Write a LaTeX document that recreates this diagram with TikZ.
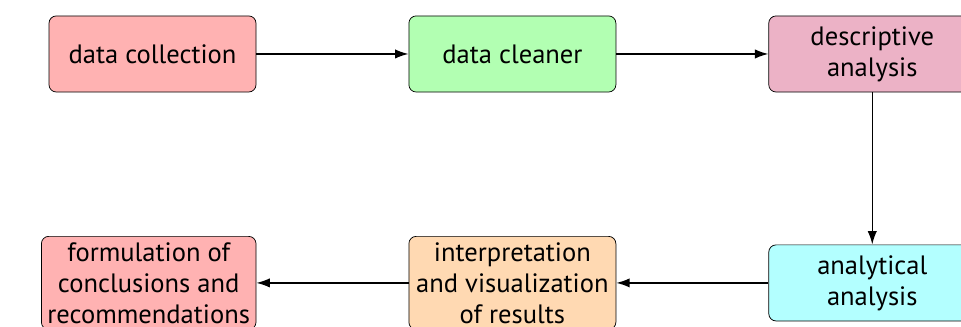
\documentclass[tikz,border=0pt]{standalone}
\usepackage{fontspec}
\setmainfont{PT Sans}
\usetikzlibrary{positioning, arrows.meta}
\definecolor{lightcyan}{RGB}{179,255,255}

\begin{document}
\begin{tikzpicture}[
                node distance=2.94cm,
                every node/.style={
                    rectangle,
                    rounded corners,
                    draw,
                    align=center,
                    minimum width=4cm,
                    minimum height=1.47cm,
                    font=\fontsize{14.6}{17}\selectfont
                },
                flow/.style={-{Latex[length=2.6mm,width=1.8mm]}, thick}
            ]
            \useasboundingbox (0,0) rectangle (18.57,-6.30);
            % top row
            \node[fill=red!30] (collect) at (2.947,-1.043) {data collection};
            \node[fill=green!30, right=of collect] (clean) {data cleaner};
            \node[fill=purple!30, right=of clean] (descr) {descriptive\\analysis};
            % bottom row
            \node[fill=lightcyan, below=of descr] (analyt) {analytical\\analysis};
            \node[fill=orange!30, left=of analyt] (interp) {interpretation\\and visualization\\of results};
            \node[fill=red!30, left=of interp] (concl) {formulation of\\conclusions and\\recommendations};

            \draw[flow] (collect) -- (clean);
            \draw[flow] (clean) -- (descr);
            \draw[flow] (descr) -- (analyt);
            \draw[flow] (analyt) -- (interp);
            \draw[flow] (interp) -- (concl);
            \end{tikzpicture}
\end{document}
